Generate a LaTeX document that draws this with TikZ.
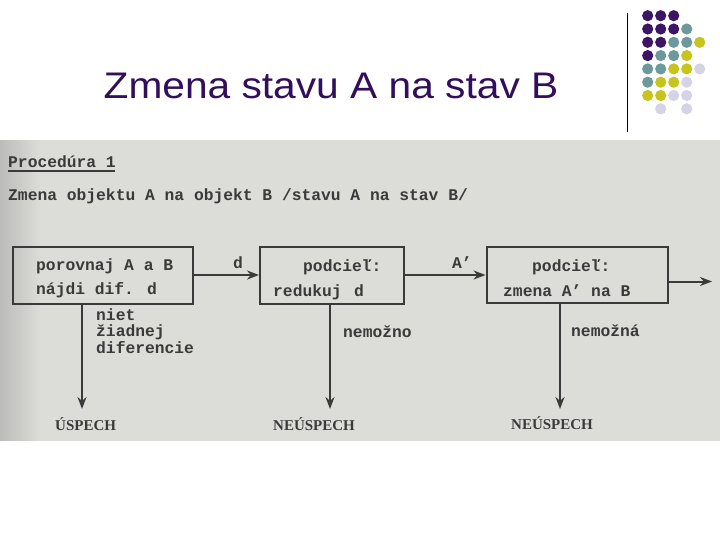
\documentclass[tikz,border=0pt]{standalone}
\usepackage{fontspec}
\setmainfont{Liberation Sans}
\newfontfamily\typew{Liberation Mono}
\newfontfamily\serifb{Liberation Serif}
\usetikzlibrary{arrows.meta}
\definecolor{titlepurple}{RGB}{50,14,92}
\definecolor{dotP}{RGB}{60,22,100}
\definecolor{dotT}{RGB}{108,154,156}
\definecolor{dotY}{RGB}{200,196,30}
\definecolor{dotL}{RGB}{212,212,230}
\definecolor{scanbg}{RGB}{220,220,217}
\definecolor{scandark}{RGB}{188,188,186}
\definecolor{ink}{RGB}{58,58,58}
\tikzset{
  dotP/.style={fill=dotP},
  dotT/.style={fill=dotT},
  dotY/.style={fill=dotY},
  dotL/.style={fill=dotL},
  box/.style={draw=ink, line width=2pt, inner sep=0pt},
  tw/.style={inner sep=0pt, anchor=base west, text=ink, font=\typew\bfseries\fontsize{16.3}{18}\selectfont},
  res/.style={inner sep=0pt, anchor=base west, text=ink, font=\serifb\bfseries\fontsize{15}{17}\selectfont},
  arr/.style={draw=ink, line width=2pt, -{Stealth[length=12pt,width=9pt]}},
}
\begin{document}
\begin{tikzpicture}[x=1pt,y=-1pt]
\useasboundingbox (0,0) rectangle (720,540);
\fill[white] (0,0) rectangle (720,540);
% title
\node[inner sep=0pt, anchor=base, text=titlepurple, font=\fontsize{37}{40}\selectfont] (title) at (331,98.3) {\scalebox{1.1}[1]{Zmena stavu A na stav B}};
% vertical rule
\draw[line width=1pt, black] (627,13) -- (627,132);
% dot grid
\foreach \r/\row in {0/{P,P,P,N,N},1/{P,P,P,T,N},2/{P,P,T,T,Y},3/{P,T,T,Y,N},4/{T,T,Y,Y,L},5/{T,Y,Y,L,N},6/{Y,Y,L,L,N},7/{N,L,N,L,N}}{
  \foreach \c [count=\i from 0] in \row {
    \if N\c\else
      \fill[dot\c] ({647.7+13*\i},{15.7+13.3*\r}) circle (5.6);
    \fi
  }
}
% scanned area
\fill[scanbg] (0,140) rectangle (720,441);
\foreach \k in {0,...,19}{
  \pgfmathsetmacro{\pc}{5*\k}
  \fill[scanbg!\pc!scandark] ({2*\k},140) rectangle ({2*\k+2.2},441);
}
% header texts
\node[tw] (proc) at (8,168) {Procedúra 1};
\draw[ink, line width=1.4pt] (8,171) -- (115,171);
\node[tw] (head) at (8,201) {Zmena objektu A na objekt B /stavu A na stav B/};
% boxes
\node[box, minimum width=180pt, minimum height=57pt] (b1) at (102.5,275) {};
\node[box, minimum width=144pt, minimum height=57pt] (b2) at (332,275) {};
\node[box, minimum width=181pt, minimum height=56pt] (b3) at (577,275) {};
% box texts
\node[tw] (t1a) at (36,270) {porovnaj A a B};
\node[tw] (t1b) at (36,294) {nájdi dif. d};
\node[tw] (t2a) at (303,271) {podcieľ:};
\node[tw] (t2b) at (273,296) {redukuj\, d};
\node[tw] (t3a) at (532,271) {podcieľ:};
\node[tw] (t3b) at (503,296) {zmena A’ na B};
% horizontal arrows
\draw[arr] (b1.east) -- (b2.west);
\node[tw] (ld) at (233,268) {d};
\draw[arr] (b2.east) -- (b3.west);
\node[tw] (la) at (452,268) {A’};
\coordinate (out) at (712,281.5);
\draw[arr] (b3.east |- out) -- (out);
% vertical arrows
\coordinate (e1) at (82,409);
\coordinate (e2) at (330,409);
\coordinate (e3) at (560,409);
\draw[arr] (b1.south -| e1) -- (e1);
\draw[arr] (b2.south -| e2) -- (e2);
\draw[arr] (b3.south -| e3) -- (e3);
\node[tw] (l1a) at (96,320) {niet};
\node[tw] (l1b) at (96,336) {žiadnej};
\node[tw] (l1c) at (96,353) {diferencie};
\node[tw] (l2) at (343,337) {nemožno};
\node[tw] (l3) at (571,336) {nemožná};
% results
\node[res] (r1) at (55,430) {ÚSPECH};
\node[res] (r2) at (273,430) {NEÚSPECH};
\node[res] (r3) at (511,429) {NEÚSPECH};
\end{tikzpicture}
\end{document}
